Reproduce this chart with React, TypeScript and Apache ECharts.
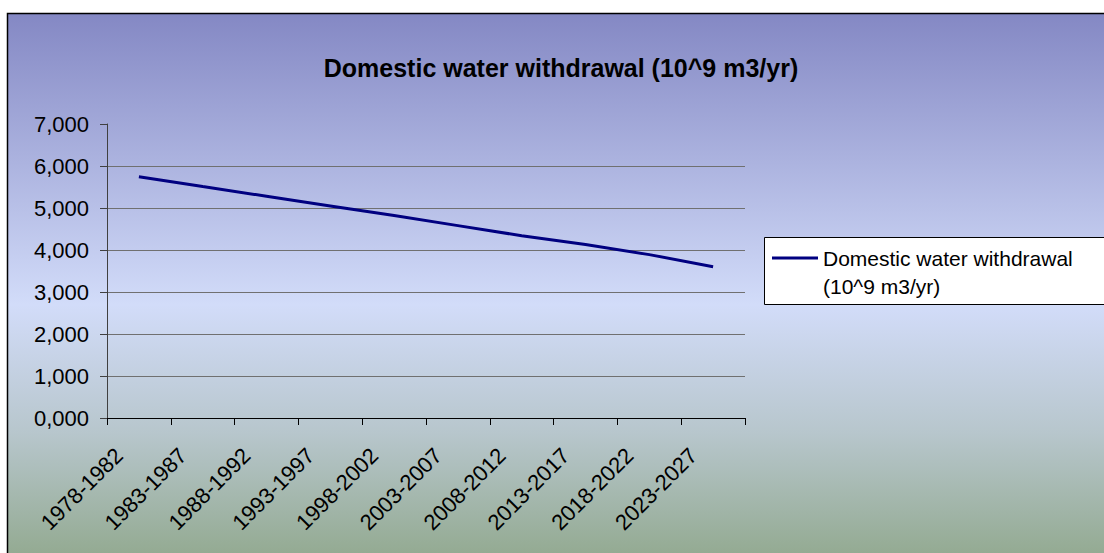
import React, { useEffect, useRef } from "react";
import * as echarts from "echarts";

const titleText = "Domestic water withdrawal (10^9 m3/yr)";
const seriesName = "Domestic water withdrawal (10^9 m3/yr)";
const legendLabel = "\nDomestic water withdrawal\n(10^9 m3/yr)";
const categories = [
  "1978-1982",
  "1983-1987",
  "1988-1992",
  "1993-1997",
  "1998-2002",
  "2003-2007",
  "2008-2012",
  "2013-2017",
  "2018-2022",
  "2023-2027",
];
const values = [5.746, 5.51, 5.28, 5.05, 4.82, 4.58, 4.34, 4.13, 3.89, 3.6];
const yMin = 0;
const yMax = 7;
const yStep = 1;

const FONT = "'Liberation Sans', Arial, sans-serif";

export default function App() {
  const ref = useRef<HTMLDivElement>(null);
  useEffect(() => {
    if (!ref.current) return;
    const chart = echarts.init(ref.current, undefined, { renderer: "svg" });
    chart.setOption({
      animation: false,
      backgroundColor: "#ffffff",
      textStyle: { fontFamily: FONT },
      graphic: [
        {
          type: "rect",
          z: 0,
          shape: { x: 7.5, y: 13.5, width: 1120, height: 560 },
          style: {
            fill: new echarts.graphic.LinearGradient(0, 0, 0, 1, [
              { offset: 0, color: "#8488c4" },
              { offset: 0.52, color: "#d2dcf9" },
              { offset: 0.75, color: "#b7c6cc" },
              { offset: 1, color: "#8ea689" },
            ]),
            stroke: "#000000",
            lineWidth: 1.5,
          },
        },
        {
          type: "rect",
          z: 1,
          shape: { x: 764.5, y: 237.5, width: 400, height: 67 },
          style: { fill: "#ffffff", stroke: "#000000", lineWidth: 1 },
        },
      ],
      title: {
        text: titleText,
        left: 561,
        top: 55,
        textAlign: "center",
        padding: 0,
        textStyle: {
          fontFamily: FONT,
          fontSize: 25,
          fontWeight: "bold",
          color: "#000000",
        },
      },
      legend: {
        left: 772,
        top: 216,
        padding: 0,
        icon: "rect",
        itemWidth: 46,
        itemHeight: 3,
        itemGap: 5,
        itemStyle: { color: "#000080" },
        formatter: () => legendLabel,
        textStyle: {
          fontFamily: FONT,
          fontSize: 21,
          lineHeight: 28,
          color: "#000000",
        },
        data: [seriesName],
      },
      grid: {
        left: 107,
        top: 124,
        right: 359,
        bottom: 135,
        show: true,
        backgroundColor: "#ffffff",
        borderWidth: 0,
        containLabel: false,
      },
      xAxis: {
        type: "category",
        data: categories,
        boundaryGap: true,
        axisLine: { show: true, lineStyle: { color: "#000000", width: 1 } },
        axisTick: {
          show: true,
          length: 7,
          alignWithLabel: false,
          lineStyle: { color: "#000000" },
        },
        axisLabel: {
          rotate: 45,
          interval: 0,
          margin: 14,
          fontFamily: FONT,
          fontSize: 22,
          color: "#000000",
          padding: [0, 28, 0, 0],
        },
        splitLine: { show: false },
      },
      yAxis: {
        type: "value",
        min: yMin,
        max: yMax,
        interval: yStep,
        axisLine: { show: true, lineStyle: { color: "#404040", width: 1 } },
        axisTick: { show: true, length: 7, lineStyle: { color: "#404040" } },
        axisLabel: {
          margin: 18,
          fontFamily: FONT,
          fontSize: 22,
          color: "#000000",
          formatter: (v: number) => v.toFixed(3).replace(".", ","),
        },
        splitLine: {
          show: true,
          showMaxLine: false,
          lineStyle: { color: "#707070", width: 1 },
        },
      },
      series: [
        {
          name: seriesName,
          type: "line",
          data: values,
          symbol: "none",
          showSymbol: false,
          lineStyle: { color: "#000080", width: 3 },
          itemStyle: { color: "#000080" },
        },
      ],
    });
    return () => chart.dispose();
  }, []);
  return (
    <div
      ref={ref}
      style={{ position: "fixed", left: 0, top: 0, width: 1104, height: 553 }}
    />
  );
}
